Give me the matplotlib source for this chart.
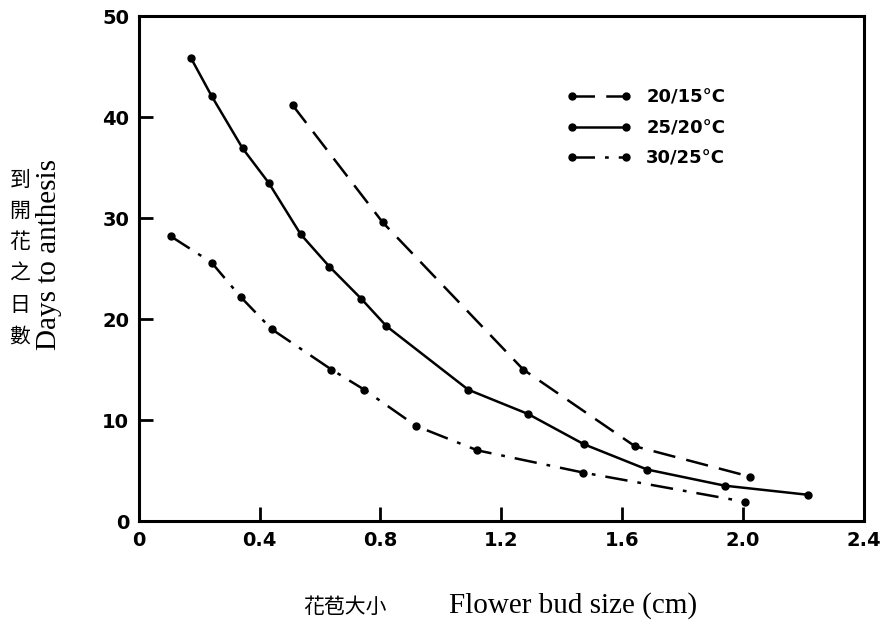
import matplotlib
matplotlib.use("Agg")
import matplotlib.pyplot as plt

# Data
x_20_15 = [0.509, 0.807, 1.273, 1.643, 2.023]
y_20_15 = [41.2, 29.6, 15.0, 7.4, 4.4]

x_25_20 = [0.172, 0.241, 0.344, 0.430, 0.536, 0.631, 0.737, 0.820, 1.091, 1.289, 1.474, 1.683, 1.940, 2.215]
y_25_20 = [45.9, 42.1, 36.9, 33.5, 28.4, 25.2, 22.0, 19.3, 13.0, 10.6, 7.6, 5.1, 3.5, 2.6]

x_30_25 = [0.106, 0.241, 0.337, 0.440, 0.638, 0.747, 0.919, 1.121, 1.471, 2.007]
y_30_25 = [28.2, 25.6, 22.2, 19.0, 15.0, 13.0, 9.4, 7.0, 4.8, 1.9]

labels = ["20/15°C", "25/20°C", "30/25°C"]
xticks = [0, 0.4, 0.8, 1.2, 1.6, 2.0, 2.4]
xticklabels = ["0", "0.4", "0.8", "1.2", "1.6", "2.0", "2.4"]
yticks = [0, 10, 20, 30, 40, 50]

fig = plt.figure(figsize=(8.84, 6.23), dpi=100)
ax = fig.add_axes([0.157, 0.1637, 0.82, 0.8103])

lw = 1.8
ms = 5
l1, = ax.plot(x_20_15, y_20_15, color="black", lw=lw, marker="o", ms=ms,
              dashes=(9, 4.5), label=labels[0])
l2, = ax.plot(x_25_20, y_25_20, color="black", lw=lw, marker="o", ms=ms,
              linestyle="-", label=labels[1])
l3, = ax.plot(x_30_25, y_30_25, color="black", lw=lw, marker="o", ms=ms,
              dashes=(9, 4, 1.5, 4), label=labels[2])

ax.set_xlim(0, 2.4)
ax.set_ylim(0, 50)
ax.set_xticks(xticks)
ax.set_xticklabels(xticklabels)
ax.set_yticks(yticks)

for s in ax.spines.values():
    s.set_linewidth(2.2)

ax.tick_params(axis="both", direction="in", length=10, width=2, pad=7)
for lab in ax.get_xticklabels() + ax.get_yticklabels():
    lab.set_fontfamily("DejaVu Sans")
    lab.set_fontweight("bold")
    lab.set_fontsize(14)

leg = ax.legend(handles=[l1, l2, l3], loc="upper left", bbox_to_anchor=(0.568, 0.889),
                frameon=False, numpoints=2, handlelength=3.6, handletextpad=0.8,
                labelspacing=0.7,
                prop={"family": "DejaVu Sans", "weight": "bold", "size": 13})

# Y label: Chinese stacked + English rotated
fig.text(20 / 884, 1 - 258 / 623, "\n".join("到開花之日數"), ha="center", va="center",
         family=["Noto Sans CJK TC", "DejaVu Sans"], fontsize=15, linespacing=1.55)
fig.text(49 / 884, 1 - 255 / 623, "Days to anthesis", ha="center", va="center",
         rotation=90, family="Liberation Serif", fontsize=21)

# X label
fig.text(345 / 884, 1 - 607 / 623, "花苞大小", ha="center", va="center",
         family=["Noto Sans CJK TC", "DejaVu Sans"], fontsize=15)
fig.text(449 / 884, 1 - 606 / 623, "Flower bud size (cm)", ha="left", va="center",
         family="Liberation Serif", fontsize=21)

fig.savefig("out.png", dpi=100)
